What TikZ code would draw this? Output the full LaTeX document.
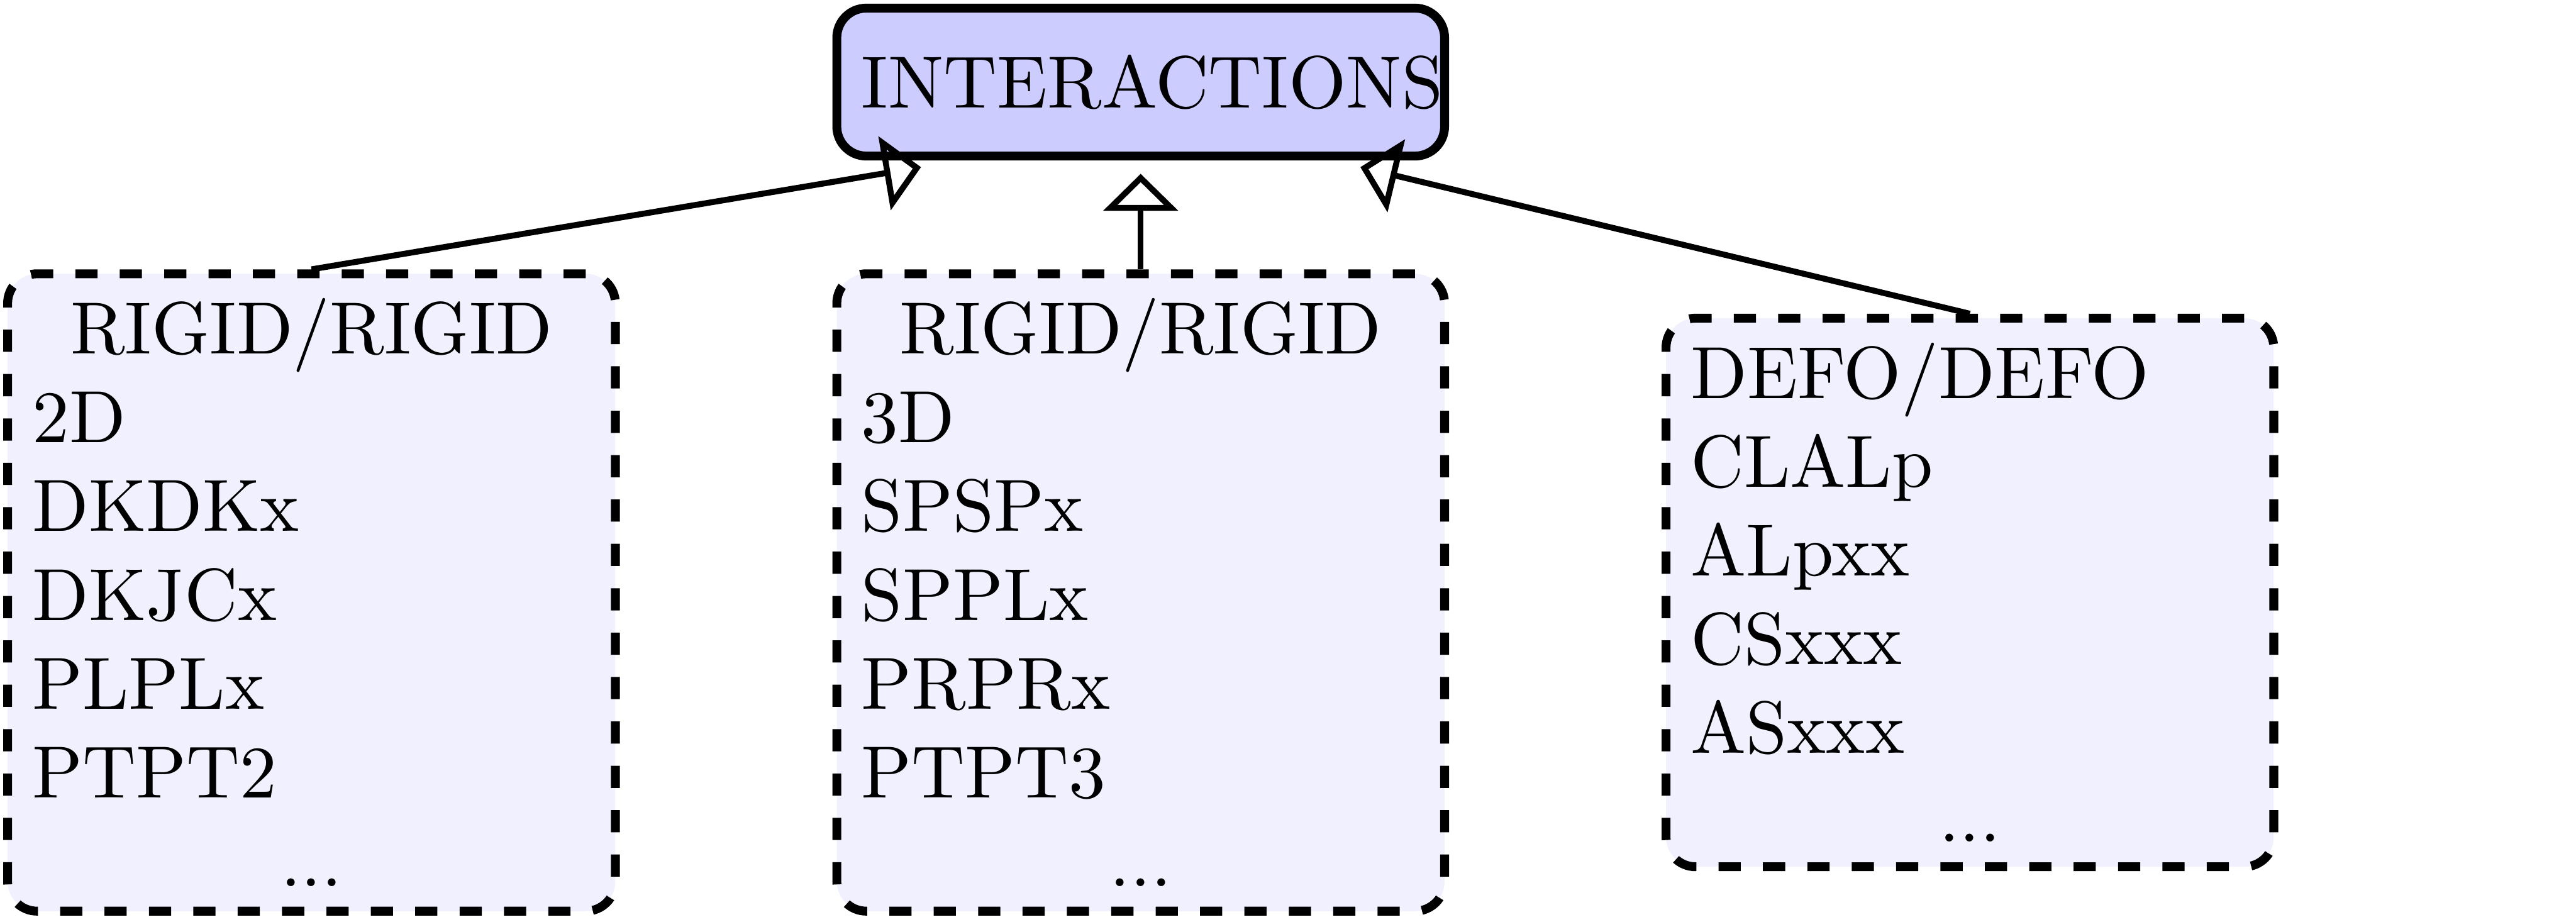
\documentclass[tikz,border=0pt]{standalone}
\usetikzlibrary{arrows.meta}
\setlength{\parindent}{0pt}
\begin{document}
\begin{tikzpicture}[>={Triangle[open,length=5pt,width=10pt]},
 racine/.style={draw,very thick,rounded corners,fill=blue!20,text width=75.5pt,minimum height=20pt,align=left},
 famille/.style={draw,dashed,very thick,rounded corners,fill=blue!6,text width=75.5pt,align=left}]
 \useasboundingbox (0,0) rectangle (12.24,4.38);
 \node[racine] (inter) at (5.42,3.99) {INTERACTIONS};
 \node[famille] (rr2) at (1.48,1.565) {\makebox[\hsize]{RIGID/RIGID}\\ 2D\\ DKDKx\\ DKJCx\\ PLPLx\\ PTPT2\\ \makebox[\hsize]{...}};
 \node[famille] (rr3) at (5.42,1.565) {\makebox[\hsize]{RIGID/RIGID}\\ 3D\\ SPSPx\\ SPPLx\\ PRPRx\\ PTPT3\\ \makebox[\hsize]{...}};
 \node[famille] (dd) at (9.36,1.565) {DEFO/DEFO\\ CLALp\\ ALpxx\\ CSxxx\\ ASxxx\\ \makebox[\hsize]{...}};
 \draw[->,thick] (rr2.north)--([xshift=-29.7pt,yshift=-.9pt]inter.south);
 \draw[->,thick] (rr3.north)--([yshift=-1.8pt]inter.south);
 \draw[->,thick] (dd.north)--([xshift=29.7pt,yshift=-.9pt]inter.south);
\end{tikzpicture}
\end{document}
